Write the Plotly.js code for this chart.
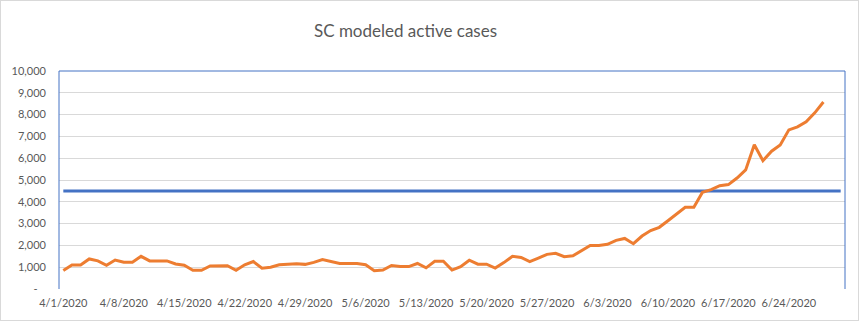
<!DOCTYPE html>
<html>
<head>
<meta charset="utf-8">
<script src="https://cdn.plot.ly/plotly-3.0.1.min.js"></script>
<style>
  html, body { margin: 0; padding: 0; background: #fff; }
  #frame { width: 859px; height: 321px; box-sizing: border-box; border: 1px solid #d9d9d9; }
  #chart { width: 857px; height: 319px; }
</style>
</head>
<body>
<div id="frame"><div id="chart"></div></div>
<script>
// Dates of the modeled series (4/1/2020 – 6/28/2020)
const dates = [
  '2020-04-01','2020-04-02','2020-04-03','2020-04-04','2020-04-05','2020-04-06','2020-04-07','2020-04-08','2020-04-09','2020-04-10',
  '2020-04-11','2020-04-12','2020-04-13','2020-04-14','2020-04-15','2020-04-16','2020-04-17','2020-04-18','2020-04-19','2020-04-20',
  '2020-04-21','2020-04-22','2020-04-23','2020-04-24','2020-04-25','2020-04-26','2020-04-27','2020-04-28','2020-04-29','2020-04-30',
  '2020-05-01','2020-05-02','2020-05-03','2020-05-04','2020-05-05','2020-05-06','2020-05-07','2020-05-08','2020-05-09','2020-05-10',
  '2020-05-11','2020-05-12','2020-05-13','2020-05-14','2020-05-15','2020-05-16','2020-05-17','2020-05-18','2020-05-19','2020-05-20',
  '2020-05-21','2020-05-22','2020-05-23','2020-05-24','2020-05-25','2020-05-26','2020-05-27','2020-05-28','2020-05-29','2020-05-30',
  '2020-05-31','2020-06-01','2020-06-02','2020-06-03','2020-06-04','2020-06-05','2020-06-06','2020-06-07','2020-06-08','2020-06-09',
  '2020-06-10','2020-06-11','2020-06-12','2020-06-13','2020-06-14','2020-06-15','2020-06-16','2020-06-17','2020-06-18','2020-06-19',
  '2020-06-20','2020-06-21','2020-06-22','2020-06-23','2020-06-24','2020-06-25','2020-06-26','2020-06-27','2020-06-28'
];

// Modeled active cases
const activeCases = [
  850, 1100, 1100, 1380, 1290, 1090, 1330, 1230, 1230, 1500,
  1290, 1290, 1290, 1150, 1090, 860, 860, 1060, 1070, 1070,
  860, 1110, 1260, 950, 1000, 1110, 1140, 1160, 1130, 1220,
  1350, 1250, 1170, 1170, 1170, 1110, 840, 870, 1080, 1030,
  1030, 1170, 970, 1270, 1270, 870, 1020, 1320, 1140, 1140,
  960, 1210, 1500, 1450, 1260, 1420, 1590, 1640, 1480, 1520,
  1770, 2000, 2000, 2050, 2230, 2320, 2080, 2430, 2680, 2830,
  3130, 3450, 3750, 3750, 4440, 4560, 4740, 4790, 5090, 5460,
  6620, 5890, 6320, 6610, 7300, 7440, 7670, 8080, 8580
];

// Horizontal reference line (capacity) spanning the full category range
const thresholdDates = ['2020-04-01', '2020-06-30'];
const thresholdValues = [4500, 4500];

// Axis ticks
const yTickVals = [0, 1000, 2000, 3000, 4000, 5000, 6000, 7000, 8000, 9000, 10000];
const yTickText = ['-\u00a0\u00a0\u00a0', '1,000', '2,000', '3,000', '4,000', '5,000', '6,000', '7,000', '8,000', '9,000', '10,000'];

const fontFam = 'Lato, "Open Sans", sans-serif';

const traces = [
  {
    x: thresholdDates, y: thresholdValues, type: 'scatter', mode: 'lines',
    line: { color: '#4472C4', width: 3 }, hoverinfo: 'skip', showlegend: false
  },
  {
    x: dates, y: activeCases, type: 'scatter', mode: 'lines',
    line: { color: '#ED7D31', width: 3 }, showlegend: false
  }
];

const layout = {
  width: 857, height: 319,
  margin: { l: 58, r: 13, t: 70, b: 31, pad: 0 },
  paper_bgcolor: '#ffffff', plot_bgcolor: '#ffffff',
  font: { family: fontFam, color: '#595959', size: 11 },
  title: {
    text: 'SC modeled active cases',
    font: { family: fontFam, size: 17, color: '#595959' },
    xref: 'container', yref: 'container',
    x: 0.472, xanchor: 'center', y: 0.905, yanchor: 'middle'
  },
  xaxis: {
    type: 'date',
    range: ['2020-03-31 12:00', '2020-06-30 12:00'],
    tick0: '2020-04-01', dtick: 7 * 86400000,
    tickformat: '%-m/%-d/%Y',
    showgrid: false, zeroline: false, showline: false,
    ticks: '', ticklabelstandoff: 6,
    tickfont: { family: fontFam, size: 11, color: '#595959' }
  },
  yaxis: {
    range: [0, 10000],
    tickvals: yTickVals, ticktext: yTickText,
    showgrid: true, gridcolor: '#d9d9d9', gridwidth: 1,
    zeroline: false, showline: false,
    ticks: '', ticklabelstandoff: 12,
    tickfont: { family: fontFam, size: 11, color: '#595959' }
  },
  shapes: [
    { type: 'line', xref: 'paper', yref: 'paper', x0: 0, x1: 0, y0: 0, y1: 1, line: { color: '#4472C4', width: 1 } },
    { type: 'line', xref: 'paper', yref: 'paper', x0: 0, x1: 1, y0: 1, y1: 1, line: { color: '#4472C4', width: 1 } },
    { type: 'line', xref: 'paper', yref: 'paper', x0: 1, x1: 1, y0: 0, y1: 1, line: { color: '#4472C4', width: 1 } }
  ]
};

Plotly.newPlot('chart', traces, layout, { displayModeBar: false, staticPlot: true });
</script>
</body>
</html>
